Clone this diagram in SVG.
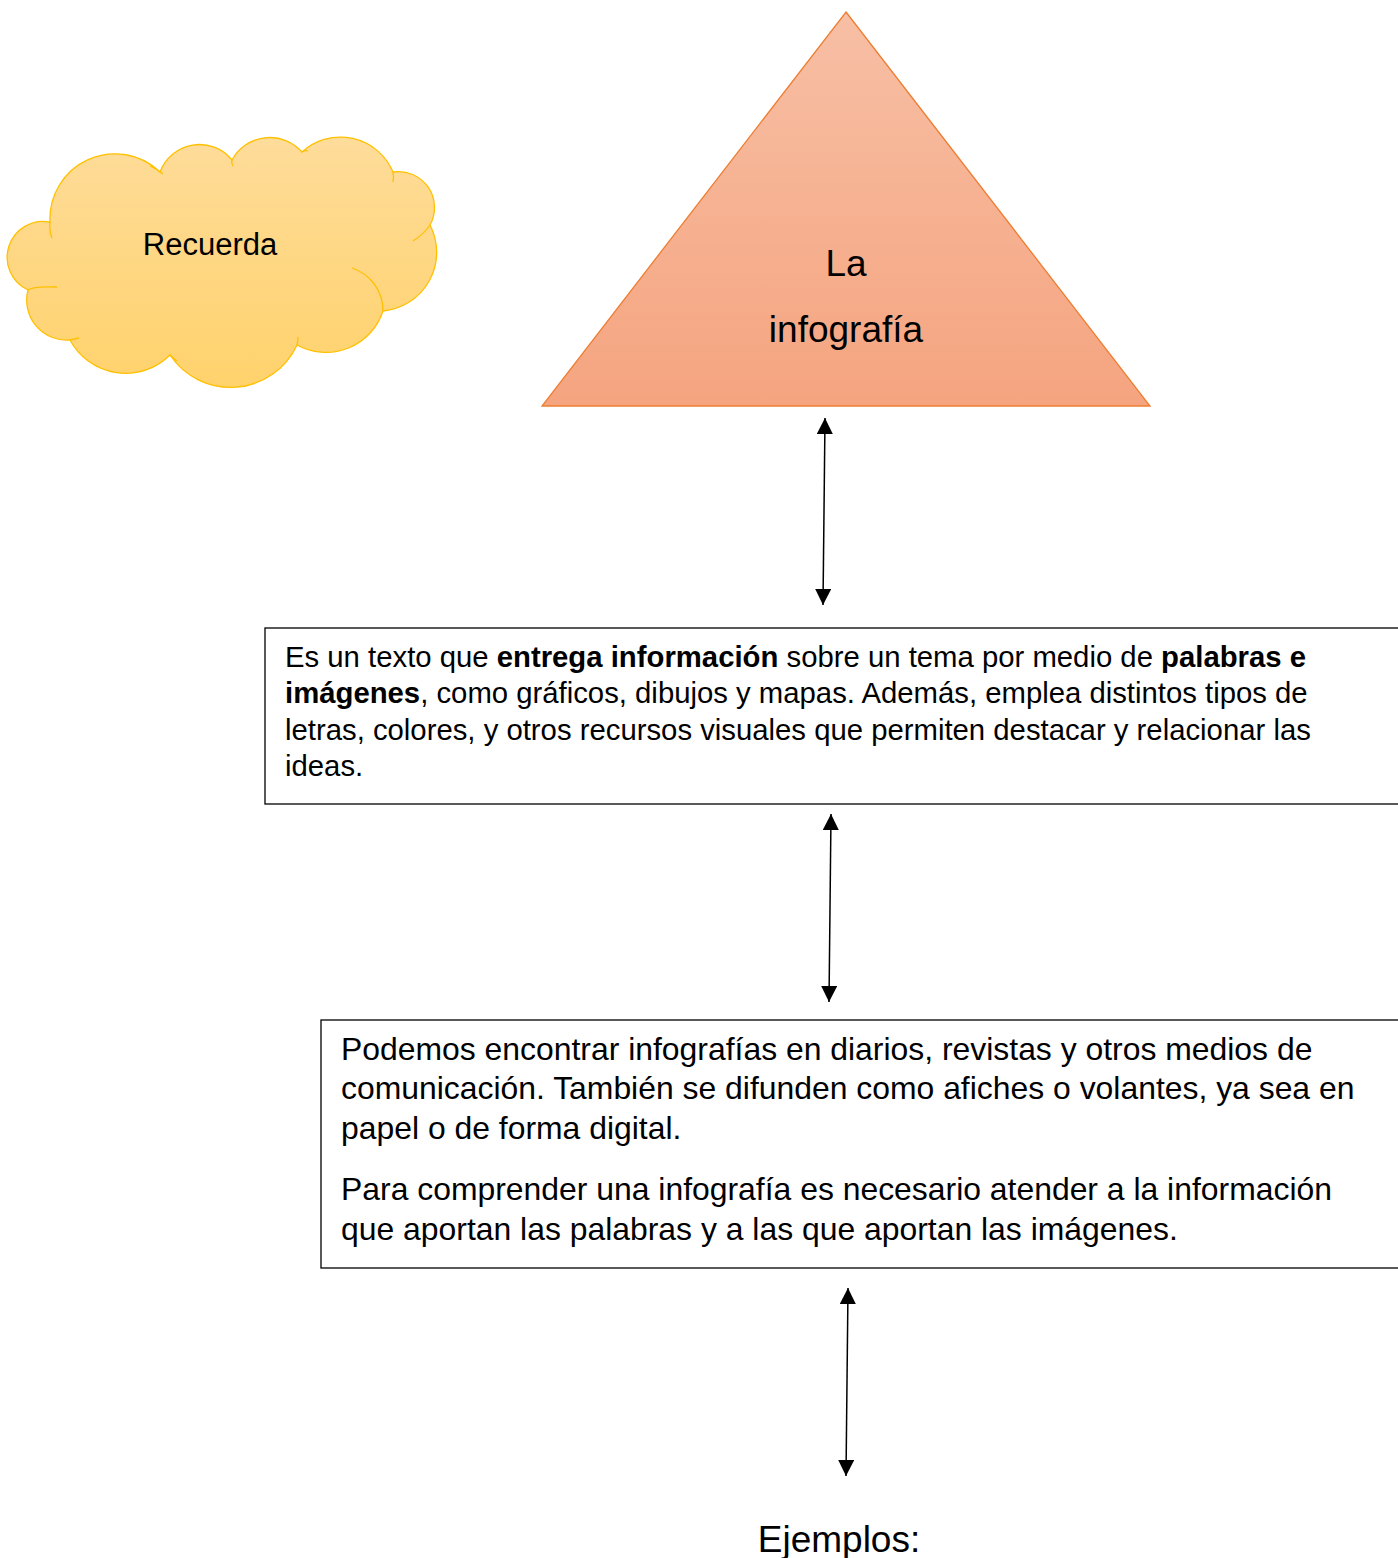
<svg xmlns="http://www.w3.org/2000/svg" width="1398" height="1558" viewBox="0 0 1398 1558">
<style>
text{font-family:"Liberation Sans",Arial,sans-serif;fill:#000}
.box{fill:#fff;stroke:#000;stroke-width:1.3}
.b{font-weight:bold}
.inner{fill:none;stroke:#FFC000;stroke-width:1.3}
</style>
<defs>
<linearGradient id="gCloud" x1="0" y1="0" x2="0" y2="1">
<stop offset="0" stop-color="#FEDC9A"/>
<stop offset="1" stop-color="#FFD26C"/>
</linearGradient>
<linearGradient id="gTri" x1="0" y1="0" x2="0" y2="1">
<stop offset="0" stop-color="#F7BFA5"/>
<stop offset="1" stop-color="#F5A47F"/>
</linearGradient>
<marker id="ah2" viewBox="0 0 16 16" refX="16" refY="8" markerWidth="16" markerHeight="16" markerUnits="userSpaceOnUse" orient="auto-start-reverse">
<path d="M0,0 L16,8 L0,16 z" fill="#000"/>
</marker>
</defs>
<rect width="1398" height="1558" fill="#fff"/>

<g id="cloud">
<path d="M50,222 A65,65 0 0 1 160,172 A42,42 0 0 1 232,160 A43,43 0 0 1 302,152 A57,57 0 0 1 393,172 A36,36 0 0 1 430,225 A59,59 0 0 1 383,311 A60,60 0 0 1 297,345 A73,73 0 0 1 170,355 A63,63 0 0 1 70,340 A40,40 0 0 1 28,290 A36,36 0 0 1 50,222 Z" fill="url(#gCloud)" stroke="#FFC000" stroke-width="1.3"/>
<path class="inner" d="M50,222 Q49,230 52,238"/>
<path class="inner" d="M150,166 Q157,169 163,174"/>
<path class="inner" d="M232,160 Q231,163 233,166"/>
<path class="inner" d="M302,152 Q305,150 308,151"/>
<path class="inner" d="M393,172 Q394,177 393,182"/>
<path class="inner" d="M430,225 Q423,235 413,241"/>
<path class="inner" d="M352,268 A45,45 0 0 1 383,311"/>
<path class="inner" d="M297,345 Q298,341 298,337"/>
<path class="inner" d="M170,355 Q173,358 177,361"/>
<path class="inner" d="M70,340 Q74,339 79,338"/>
<path class="inner" d="M28,290 Q33,286 57,287"/>
<text x="210" y="255" font-size="31" text-anchor="middle">Recuerda</text>
</g>

<g id="triangle">
<path d="M846,12 L1150,406 L542,406 Z" fill="url(#gTri)" stroke="#ED7D31" stroke-width="1.3"/>
<text x="846" y="276" font-size="37" text-anchor="middle">La</text>
<text x="846" y="342" font-size="37" text-anchor="middle">infografía</text>
</g>

<g id="box1">
<rect class="box" x="265" y="628" width="1150" height="176"/>
<text font-size="29.3">
<tspan x="285" y="667">Es un texto que <tspan class="b">entrega información</tspan> sobre un tema por medio de <tspan class="b">palabras e</tspan></tspan>
<tspan x="285" y="703"><tspan class="b">imágenes</tspan>, como gráficos, dibujos y mapas. Además, emplea distintos tipos de</tspan>
<tspan x="285" y="740">letras, colores, y otros recursos visuales que permiten destacar y relacionar las</tspan>
<tspan x="285" y="776">ideas.</tspan>
</text>
</g>

<g id="box2">
<rect class="box" x="321" y="1020" width="1100" height="248"/>
<text font-size="31.9">
<tspan x="341" y="1060">Podemos encontrar infografías en diarios, revistas y otros medios de</tspan>
<tspan x="341" y="1099">comunicación. También se difunden como afiches o volantes, ya sea en</tspan>
<tspan x="341" y="1139">papel o de forma digital.</tspan>
<tspan x="341" y="1200">Para comprender una infografía es necesario atender a la información</tspan>
<tspan x="341" y="1240">que aportan las palabras y a las que aportan las imágenes.</tspan>
</text>
</g>

<g id="ejemplos">
<text x="839" y="1552" font-size="37" text-anchor="middle">Ejemplos:</text>
</g>

<g id="connectors" stroke="#000" stroke-width="1.5" fill="none">
<line x1="825" y1="418" x2="823" y2="605" marker-start="url(#ah2)" marker-end="url(#ah2)"/>
<line x1="831" y1="814" x2="829" y2="1002" marker-start="url(#ah2)" marker-end="url(#ah2)"/>
<line x1="848" y1="1288" x2="846" y2="1476" marker-start="url(#ah2)" marker-end="url(#ah2)"/>
</g>
</svg>
